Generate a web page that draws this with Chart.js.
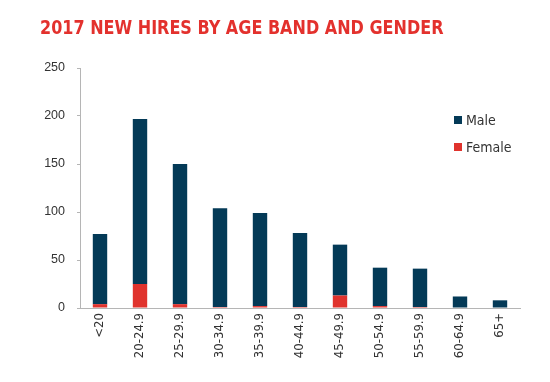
<!DOCTYPE html>
<html>
<head>
<meta charset="utf-8">
<script src="https://cdn.jsdelivr.net/npm/chart.js@4"></script>
<style>
  html, body { margin: 0; padding: 0; background: #fff; }
  #wrap { position: relative; width: 550px; height: 382px; }
  #title { position: absolute; left: 40px; top: 17px; font-family: "DejaVu Sans Condensed", sans-serif; font-weight: bold; font-size: 20px; line-height: 21px; color: #e3312d; white-space: nowrap; transform: scaleX(0.89); transform-origin: 0 0; }
  #legend { position: absolute; left: 454px; top: 106px; font-family: "DejaVu Sans Condensed", sans-serif; font-size: 14px; color: #333; }
  .li { display: flex; align-items: center; height: 27px; }
  .sw { width: 8px; height: 8px; margin-right: 4px; }
  canvas { position: absolute; left: 0; top: 0; }
</style>
</head>
<body>
<div id="wrap">
  <canvas id="c" width="550" height="382"></canvas>
  <div id="title">2017 NEW HIRES BY AGE BAND AND GENDER</div>
  <div id="legend"></div>
</div>
<script>
const categories = ["<20", "20-24.9", "25-29.9", "30-34.9", "35-39.9", "40-44.9", "45-49.9", "50-54.9", "55-59.9", "60-64.9", "65+"];
const maleValues = [73, 172, 146, 103, 97, 77, 53, 40, 40, 12, 8];
const femaleValues = [4, 25, 4, 1, 2, 1, 13, 2, 1, 0, 0];
const yTicks = [0, 50, 100, 150, 200, 250];

const MALE_COLOR = "#043a57";
const FEMALE_COLOR = "#e0332d";

const legendEl = document.getElementById("legend");
[["Male", MALE_COLOR], ["Female", FEMALE_COLOR]].forEach(([name, col]) => {
  const d = document.createElement("div");
  d.className = "li";
  d.innerHTML = '<span class="sw" style="background:' + col + '"></span><span>' + name + '</span>';
  legendEl.appendChild(d);
});

new Chart(document.getElementById("c"), {
  type: "bar",
  data: {
    labels: categories,
    datasets: [
      { label: "Female", data: femaleValues, backgroundColor: FEMALE_COLOR, barPercentage: 0.36, categoryPercentage: 1 },
      { label: "Male", data: maleValues, backgroundColor: MALE_COLOR, barPercentage: 0.36, categoryPercentage: 1 }
    ]
  },
  options: {
    responsive: false,
    animation: false,
    events: [],
    layout: { padding: { top: 68, left: 0, right: 30, bottom: 0 } },
    plugins: { legend: { display: false }, tooltip: { enabled: false }, title: { display: false } },
    scales: {
      x: {
        stacked: true,
        grid: { display: false, drawTicks: false },
        border: { display: true, color: "#b5b5b5", width: 1 },
        ticks: { minRotation: 90, maxRotation: 90, padding: 5, color: "#333", font: { family: "DejaVu Sans Condensed", size: 13 }, autoSkip: false },
        afterFit: (s) => { s.height = 74; }
      },
      y: {
        stacked: true,
        min: 0, max: 250,
        afterBuildTicks: (s) => { s.ticks = yTicks.map(v => ({ value: v })); },
        grid: { display: true, drawOnChartArea: false, drawTicks: true, tickLength: 3, color: "#b5b5b5" },
        border: { display: true, color: "#b5b5b5", width: 1 },
        ticks: { padding: 12, color: "#333", font: { family: "Liberation Sans", size: 12.5 } },
        afterFit: (s) => { s.width = 80; }
      }
    }
  }
});
</script>
</body>
</html>
